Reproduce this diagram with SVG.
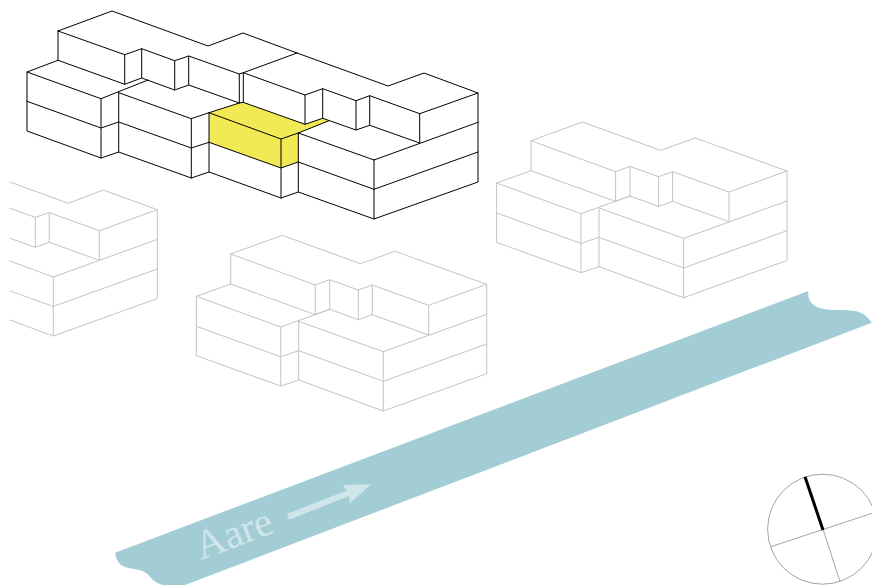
<svg xmlns="http://www.w3.org/2000/svg" xmlns:xlink="http://www.w3.org/1999/xlink" width="872" height="585" viewBox="0 0 872 585">
<style>
.edge{fill:none;stroke-linejoin:round;stroke-linecap:round}
.active{stroke:#000;stroke-width:1}
.ghost{stroke:#c4c4c4;stroke-width:1}
.river{fill:#a3cdd5}
.pale{fill:#cfe5ea}
.label{font-family:"Liberation Serif","DejaVu Serif",serif;font-size:41px}
.dial{fill:none;stroke:#999;stroke-width:.9}
</style>
<defs>
<path id="block" class="edge ghost" d="M230.7 254L282.3 235.3L360.3 263.7L395 251.3L486.7 284.3V373.7L383.3 411L298.7 380L280.7 386L196.3 355.7V296.3L230.7 284V254M230.7 254L315.3 285V314.7L230.7 284M315.3 285L329.7 279.7V309.3L315.3 314.7M329.7 279.7L358.3 290V319.7L329.7 309.3M358.3 290L372.3 285V314.7L358.3 319.7M372.3 285L428.7 305.3V335L372.3 314.7M428.7 305.3L486.7 284.3M383.3 351.7L486.7 314.3M383.3 381.3L486.7 344M383.3 351.7V411M298.7 321.3L383.3 351.7M298.7 350.7L383.3 381.3M298.7 321.3V380M280.7 327V386M196.3 296.3L280.7 327L329.7 309.3M196.3 326.3L280.7 356.7L298.7 350.7"/>
</defs>
<g id="river">
<path class="river" d="M115 552.7L808.3 291C808 295 808.5 298 810 301C813 306 819 308.5 827 309.5C836 310.5 846 309.5 855 311C863 312.5 868 317 871.8 322.7L185 585H163C158 584 155 582 152 579C148 574 145 571.5 139 570C133 568.5 127 568.5 122 565.5C118 563 116 558 115 552.7Z"/>
<text class="label pale" transform="translate(201 560) rotate(-20.5)">Aare</text>
<polygon class="pale" points="286.7,514 347,490.5 342.7,485 371,484.3 350,503.3 349,496 289.3,519.7"/>
</g>
<g id="building-west">
<path class="edge ghost" d="M10 182L68.3 203.3L103.3 190L157.3 209.7V298.5L53.3 336L10 320M10 208.3L35.3 217.3V247.3L10 238.3M35.3 217.3L49.3 212.7V242.3L35.3 247.3M49.3 212.7L99.3 230.7V260.3L49.3 242.3M99.3 230.7L157.3 209.7M53.3 277L157.3 239.4M53.3 306.4L157.3 269M53.3 277V336M10 261L53.3 277M10 291L53.3 306.4"/>
</g>
<g id="building-south"><use href="#block" xlink:href="#block"/></g>
<g id="building-east"><use href="#block" xlink:href="#block" x="300.3" y="-113.3"/></g>
<g id="building-north">
<polygon fill="#f1ea55" points="209,112.7 239.3,103 243.3,102.4 305,124.3 322.7,118.3 329,120.7 298.3,133 298.3,162 281,168 209,142.3"/>
<path class="edge active" d="M58 31L112 11L208 46L243 33L297 53L388 86L424 73L478 93V182L374 219L298.3 192L281 198L209 172L191.3 178L118.7 152L101 158L27 131V72L58 60.3V31M58 31L124.7 54.7V84.3L58 60.3M124.7 54.7L141.7 48.7V78L124.7 84.3M141.7 48.7L174.7 60.7V90L141.7 78M174.7 60.7L188.7 56V85L174.7 90M188.7 56L239.3 74V103L188.7 85M239.3 74L243.3 72.7V102.4L239.3 103M243.3 72.7L297 53M243.3 72.7L305 95V124.3L243.3 102.4M305 95L322.7 88.7V118.3L305 124.3M322.7 88.7L356 100.7V130L322.7 118.3M356 100.7L369.7 95.7V125.3L356 130M369.7 95.7L419.7 113.7V143L369.7 125.3M419.7 113.7L478 93M374 160L478 122.3M374 189.3L478 152M374 160V219M298.3 133L374 160M298.3 162L374 189.3M298.3 133V192M298.3 133L329 120.7M281 139V198M209 142.3L281 168L298.3 162M209 112.7L281 139L298.3 133M209 112.7V172M209 112.7L239.3 103M27 101.3L101 128L118.7 122M101 98.7V158M27 72L101 98.7L148 80M118.7 92.7V152M118.7 92.7L191.3 118.7V178M118.7 122L191.3 148L209 142.3M191.3 118.7L209 112.7"/>
</g>
<g id="compass">
<circle class="dial" cx="822.6" cy="529.2" r="55"/>
<path class="dial" d="M823.3 530L840 581.7M771 546.7L872 513.3"/>
<path fill="none" stroke="#000" stroke-width="3" d="M805 476.7L823 530"/>
</g>
</svg>
